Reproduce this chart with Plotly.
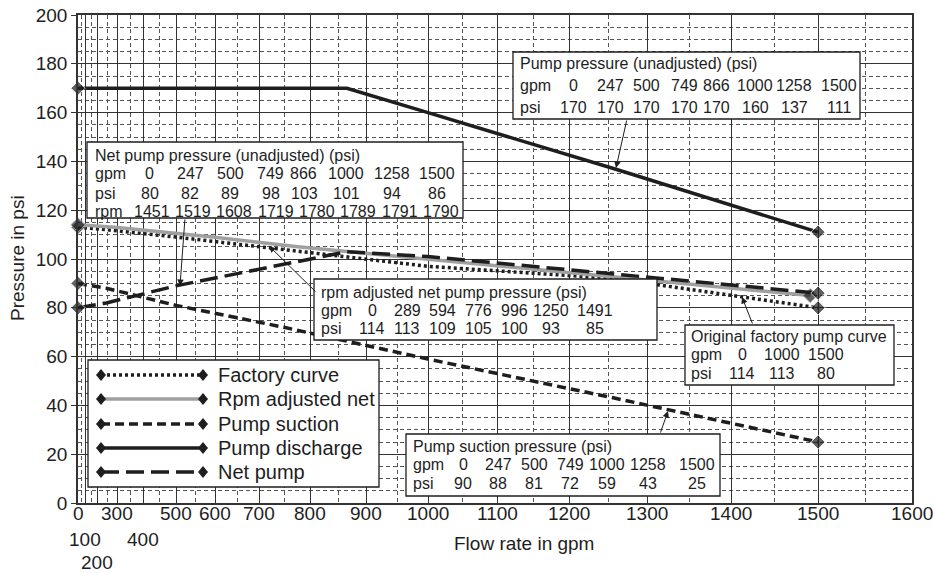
import numpy as np
import plotly.graph_objects as go

# ---------------- data ----------------
# flow axis tick labels (gpm) and where each sits along the (warped) flow axis
tick_gpm = [0, 100, 200, 300, 400, 500, 600, 700, 800, 900, 1000, 1100, 1200, 1300, 1400, 1500, 1600]
tick_pos = [0, 7, 19, 39, 65, 98, 137, 181, 232, 288, 350, 419, 491, 569, 653, 740, 834]
tick_row = [0, 1, 2, 0, 1, 0, 0, 0, 0, 0, 0, 0, 0, 0, 0, 0, 0]   # label line (staggered)
minor_gpm = [50, 150, 250, 350, 450, 550, 650, 750, 850, 950, 1050, 1150, 1250, 1350, 1450, 1550]

factory_gpm = [0, 247, 500, 749, 866, 1000, 1258, 1500]
factory_psi = [113, 112, 109, 104, 101, 97, 92, 80]

rpm_gpm = [0, 289, 594, 776, 996, 1250, 1491]
rpm_psi = [114, 113, 109, 105, 100, 93, 85]

suction_gpm = [0, 247, 500, 749, 1000, 1258, 1500]
suction_psi = [90, 88, 81, 72, 59, 43, 25]

discharge_gpm = [0, 247, 500, 749, 866, 1000, 1258, 1500]
discharge_psi = [170, 170, 170, 170, 170, 160, 137, 111]

net_gpm = [0, 247, 500, 749, 866, 1000, 1258, 1500]
net_psi = [80, 82, 89, 98, 103, 101, 94, 86]
net_rpm = [1451, 1519, 1608, 1719, 1780, 1789, 1791, 1790]

factory_tbl_gpm = [0, 1000, 1500]
factory_tbl_psi = [114, 113, 80]

# ---------------- helpers ----------------
W, H = 934, 573
L, R, T, B = 78, 22, 15, 70
PW, PH = W - L - R, H - T - B


def PX(x):
    return (x - L) / PW


def PY(y):
    return (H - B - y) / PH


def flow(g):
    return np.interp(g, tick_gpm, tick_pos)


def msizes(n, s=11):
    return [s] + [0] * (n - 2) + [s]


FONT = "Liberation Sans, Arial, Helvetica, sans-serif"
INK = "#1e1e1e"

series = [
    ("Factory curve", factory_gpm, factory_psi, dict(color=INK, width=3.5, dash="3px,3px")),
    ("Rpm adjusted net", rpm_gpm, rpm_psi, dict(color="#a0a0a0", width=3.5)),
    ("Pump suction", suction_gpm, suction_psi, dict(color=INK, width=3.5, dash="9px,5px")),
    ("Pump discharge", discharge_gpm, discharge_psi, dict(color=INK, width=3.5)),
    ("Net pump", net_gpm, net_psi, dict(color=INK, width=3.5, dash="18px,7px")),
]

fig = go.Figure()
for name, gx, gy, line in series:
    fig.add_trace(go.Scatter(
        x=flow(gx), y=gy, name=name, mode="lines+markers", line=line,
        marker=dict(symbol="diamond", size=msizes(len(gx)), color=INK),
        cliponaxis=False, showlegend=False, hoverinfo="skip"))

shapes = []
annots = []


def txt(x, y, s, size=16, anchor="left"):
    annots.append(dict(x=PX(x), y=PY(y), xref="paper", yref="paper", text=s,
                       showarrow=False, xanchor=anchor, yanchor="middle",
                       font=dict(size=size, color=INK, family=FONT)))


# ---------- tables ----------
def table(box, left, title, title_y, rows, row_ys, cols):
    x0, y0, x1, y1 = box
    shapes.append(dict(type="rect", xref="paper", yref="paper",
                       x0=PX(x0), x1=PX(x1), y0=PY(y0), y1=PY(y1),
                       fillcolor="white", line=dict(color=INK, width=1.3), layer="above"))
    txt(left, title_y, title)
    for i, ((label, vals), ry) in enumerate(zip(rows, row_ys)):
        txt(left, ry, label)
        cx_list = cols[i] if isinstance(cols[0], list) else cols
        for v, cx in zip(vals, cx_list):
            txt(cx, ry, str(v), anchor="center")


table((513, 52, 860, 119), 518, "Pump pressure (unadjusted) (psi)", 64,
      [("gpm", discharge_gpm), ("psi", discharge_psi)], [86, 107],
      [573, 610, 646, 684, 716, 755, 794, 839])

table((87, 142, 463, 218), 93, "Net pump pressure (unadjusted) (psi)", 155,
      [("gpm", net_gpm), ("psi", net_psi), ("rpm", net_rpm)], [174, 193, 211],
      [[149, 190, 230, 270, 303, 346, 392, 437],
       [150, 190, 230, 271, 304, 346, 392, 437],
       [152, 193, 234, 276, 317, 358, 400, 441]])

table((314, 279, 657, 340), 319, "rpm adjusted net pump pressure (psi)", 292,
      [("gpm", rpm_gpm), ("psi", rpm_psi)], [310, 328],
      [372, 407, 442, 478, 514, 551, 595])

table((685, 325, 894, 385), 689, "Original factory pump curve", 336,
      [("gpm", factory_tbl_gpm), ("psi", factory_tbl_psi)], [354, 373],
      [742, 782, 826])

table((406, 434, 720, 496), 411, "Pump suction pressure (psi)", 446,
      [("gpm", suction_gpm), ("psi", suction_psi)], [464, 483],
      [463, 498, 534, 570, 607, 648, 697])

# ---------- arrows (head, tail) ----------
arrows = [((616, 168), (627, 119)),
          ((180, 286), (185, 218)),
          ((269, 246), (317, 293)),
          ((742, 297), (753, 325)),
          ((668, 411), (660, 434))]
for (hx, hy), (tx, ty) in arrows:
    annots.append(dict(x=PX(hx), y=PY(hy), xref="paper", yref="paper", text="",
                       showarrow=True, ax=tx - hx, ay=ty - hy, arrowhead=2, arrowsize=1.3,
                       arrowwidth=1, arrowcolor=INK))

# ---------- legend ----------
shapes.append(dict(type="rect", xref="paper", yref="paper",
                   x0=PX(88), x1=PX(379), y0=PY(360), y1=PY(487),
                   fillcolor="white", line=dict(color=INK, width=1.3), layer="above"))
leg_y = [375, 399, 424, 448, 472]
for (name, _, _, line), ly in zip(series, leg_y):
    shapes.append(dict(type="line", xref="paper", yref="paper",
                       x0=PX(101), x1=PX(203), y0=PY(ly), y1=PY(ly),
                       line=dict(color=line["color"], width=line["width"],
                                 dash=line.get("dash", "solid")), layer="above"))
    for cx in (101, 203):
        path = (f"M {PX(cx-5)},{PY(ly)} L {PX(cx)},{PY(ly-6)} "
                f"L {PX(cx+5)},{PY(ly)} L {PX(cx)},{PY(ly+6)} Z")
        shapes.append(dict(type="path", xref="paper", yref="paper", path=path,
                           fillcolor=INK, line=dict(color=INK, width=0), layer="above"))
    txt(216, ly, name, size=20)

# ---------- x tick labels (staggered rows) ----------
row_y = [513, 539, 562]
for g, p, r in zip(tick_gpm, tick_pos, tick_row):
    annots.append(dict(x=p, y=PY(row_y[r]), xref="x", yref="paper", text=str(g),
                       showarrow=False, xanchor="center", yanchor="middle",
                       font=dict(size=19, color=INK, family=FONT)))

# ---------- axis titles ----------
txt(524, 543, "Flow rate in gpm", size=19, anchor="center")
annots.append(dict(x=PX(17), y=PY(258), xref="paper", yref="paper", text="Pressure in psi",
                   showarrow=False, xanchor="center", yanchor="middle", textangle=-90,
                   font=dict(size=19, color=INK, family=FONT)))

fig.update_layout(
    width=W, height=H, margin=dict(l=L, r=R, t=T, b=B, autoexpand=False),
    paper_bgcolor="white", plot_bgcolor="white",
    font=dict(family=FONT, size=19, color=INK),
    shapes=shapes, annotations=annots, hovermode=False,
    xaxis=dict(range=[0, tick_pos[-1]], tickmode="array", tickvals=tick_pos,
               showticklabels=False, showgrid=True, gridcolor="#333", gridwidth=1,
               automargin=False, showline=True, linecolor="#333", linewidth=1.5,
               mirror=True, zeroline=False, ticks="",
               minor=dict(tickmode="array", tickvals=list(flow(minor_gpm)), showgrid=True,
                          gridcolor="#555", gridwidth=1, griddash="4px,3px", ticks="")),
    yaxis=dict(range=[0, 200], tickmode="linear", tick0=0, dtick=20, automargin=False,
               showgrid=True, gridcolor="#333", gridwidth=1,
               showline=True, linecolor="#333", linewidth=1.5, mirror=True, zeroline=False,
               ticks="outside", ticklen=5, tickcolor="#333", tickfont=dict(size=19, color=INK),
               minor=dict(dtick=5, showgrid=True, gridcolor="#555", gridwidth=1,
                          griddash="4px,3px", ticks="")),
)

fig.write_html("out.html", config={"displayModeBar": False},
               post_script="document.body.style.margin='0px';")
